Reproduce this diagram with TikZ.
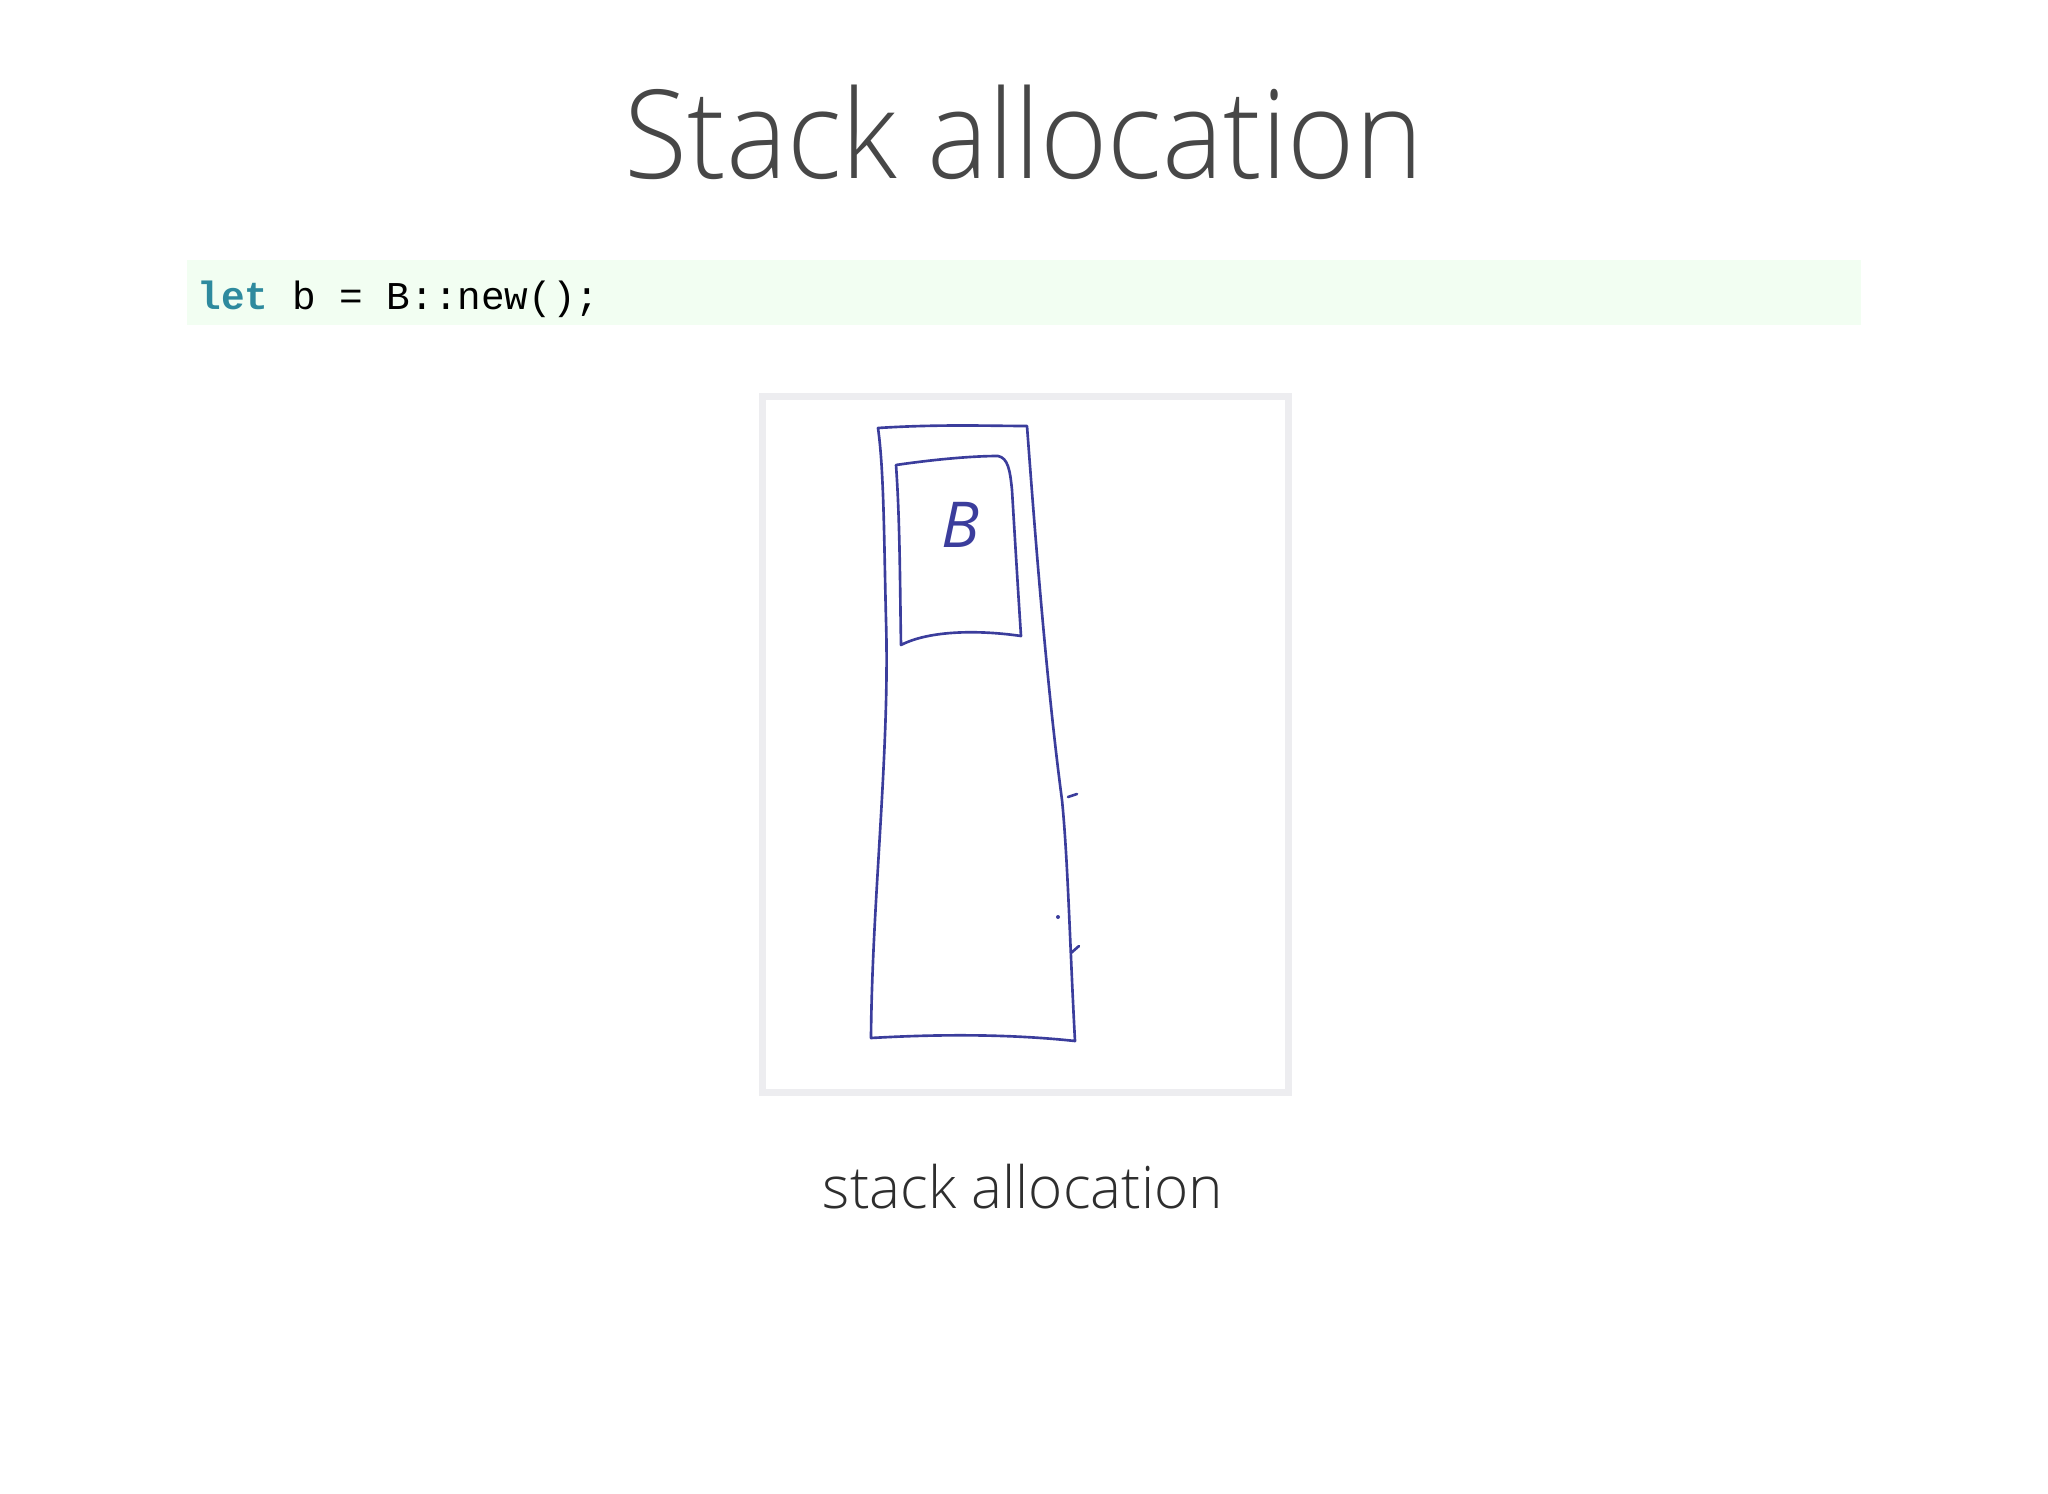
\documentclass[tikz,border=0pt]{standalone}
\usepackage{fontspec}
\setmainfont{Open Sans}
\setmonofont{Liberation Mono}
\newfontfamily\lightfont{Open Sans Light}
\definecolor{pen}{HTML}{3B3D9C}
\definecolor{codebg}{HTML}{F2FEF2}
\definecolor{keyword}{HTML}{2E8A9E}
\definecolor{framegray}{HTML}{EDEDF0}
\tikzset{
  sketch/.style={draw=pen, line width=0.75pt, line join=round, line cap=round},
  heading/.style={anchor=base, text=black!72, xscale=0.935, font=\lightfont\fontsize{35}{42}\selectfont},
  caption/.style={anchor=base, text=black!82, font=\lightfont\fontsize{16.6}{20}\selectfont}
}
\begin{document}
\begin{tikzpicture}[x=0.01cm, y=-0.01cm]
            \useasboundingbox (0,0) rectangle (2048,1494);
            % Title
            \node[heading] (title) at (1024,179) {Stack allocation};
            % Code line
            \fill[codebg] (187,260) rectangle (1861,325);
            \node[anchor=base west, inner sep=0pt, font=\ttfamily\fontsize{11.2}{13}\selectfont] (code) at (197,309)
                {\textbf{\color{keyword}let} b = B::new();};
            % Picture frame
            \node[draw=framegray, line width=2pt, inner sep=0pt,
                  minimum width=5.26cm, minimum height=6.96cm] (frame) at (1025.5,744.5) {};
            % Stack
            \draw[sketch] (878,428) .. controls (940,424) and (990,426) .. (1027,426)
                .. controls (1034,520) and (1046,680) .. (1062,800)
                .. controls (1068,860) and (1070,950) .. (1075,1041)
                .. controls (1010,1034) and (940,1034) .. (871,1038)
                .. controls (872,900) and (890,750) .. (886,620)
                .. controls (884,540) and (884,470) .. (878,428) -- cycle;
            % Box B
            \draw[sketch] (896,465) .. controls (930,460) and (970,456) .. (998,456)
                .. controls (1008,458) and (1010,470) .. (1012,490)
                .. controls (1015,540) and (1018,590) .. (1021,636)
                .. controls (980,630) and (930,630) .. (901,645)
                .. controls (900,590) and (900,520) .. (896,465) -- cycle;
            \node[text=pen, font=\itshape\fontsize{18}{20}\selectfont] (b) at (960,525) {B};
            % Ticks
            \foreach \x/\y/\dx/\dy in {1068/797/9/-3, 1071/953/8/-7} {
                    \draw[sketch] (\x,\y) -- ++(\dx,\dy);
                }
            \fill[pen] (1058,917) circle (2);
            % Caption
            \node[caption] (cap) at (1023,1208) {stack allocation};
        \end{tikzpicture}
\end{document}
